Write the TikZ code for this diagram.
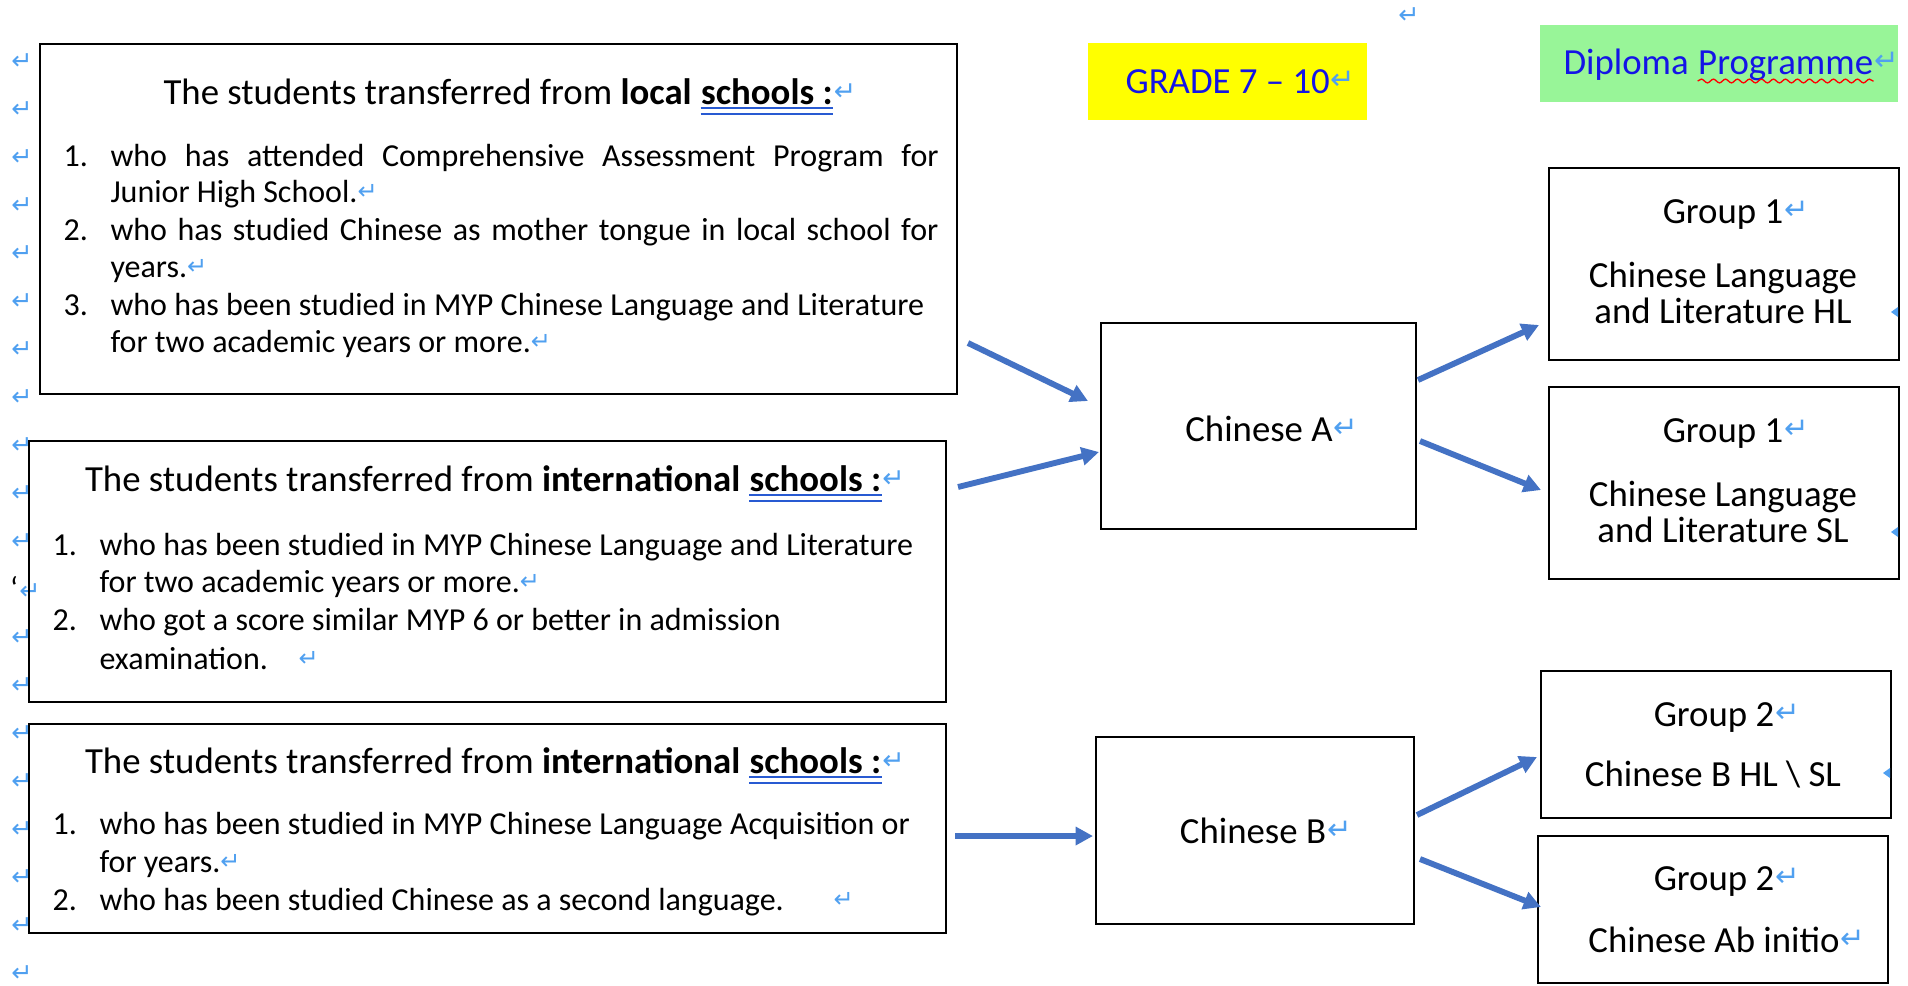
\documentclass[tikz,border=0pt]{standalone}
\usepackage{fontspec}
\setmainfont{Carlito}
\newfontfamily\djv{DejaVu Sans}
\usetikzlibrary{arrows.meta,calc,fit,decorations.pathmorphing}
\definecolor{pmblue}{RGB}{80,160,240}
\definecolor{arrowblue}{RGB}{68,114,196}
\definecolor{ulblue}{RGB}{40,90,210}
\definecolor{gradeyellow}{RGB}{255,255,0}
\definecolor{dpgreen}{RGB}{152,245,152}
\definecolor{textblue}{RGB}{20,20,230}
\newcommand\flst{\fontsize{12pt}{14pt}\selectfont}
\newcommand\fbg{\fontsize{13.8pt}{16pt}\selectfont}
\newcommand\rmk[1]{{\djv\fontsize{#1}{#1}\selectfont\color{pmblue}\raisebox{0.12em}{↵}}}
\tikzset{
  bx/.style={draw=black, line width=0.95pt, inner sep=0pt},
  tx/.style={inner sep=0pt, anchor=base west},
  txc/.style={inner sep=0pt, anchor=base},
  arr/.style={draw=arrowblue, line width=2.2pt, -{Triangle[length=6.5pt,width=6.6pt]}},
  ul/.style={draw=ulblue, line width=0.75pt},
  mg/.style={inner sep=0pt, anchor=center},
  tip/.style={fill=pmblue},
}
\begin{document}
\begin{tikzpicture}[x=0.375pt,y=-0.375pt]
\useasboundingbox (0,0) rectangle (1908,985);
\fill[white] (0,0) rectangle (1908,985);

% margin paragraph marks
\foreach \k in {0,...,10,12,13,...,19}{
  \node[mg] (pm\k) at (22,{63+48*\k}) {\rmk{9.5pt}};
}
\node[mg] (qt) at (14,588) {\flst ‘};
\node[mg] (pm11) at (30,593) {\rmk{9.5pt}};
\node[mg] (pmtop) at (1409,17) {\rmk{9.5pt}};

% ---------- left boxes ----------
\node[bx, fit={(40,44) (957,394)}] (b1) {};
\node[bx, fit={(29,441) (946,702)}] (b2) {};
\node[bx, fit={(29,724) (946,933)}] (b3) {};

% box 1
\node[tx] (t1a) at (163,104) {\fbg The students transferred from \textbf{local}\ \null};
\node[tx] (t1b) at (t1a.base east) {\fbg\textbf{schools :}};
\node[tx] (t1m) at (t1b.base east) {\rmk{10pt}};
\draw[ul] ($(t1b.base west)+(0,4)$) -- ($(t1b.base east)+(0,4)$);
\draw[ul] ($(t1b.base west)+(0,10)$) -- ($(t1b.base east)+(0,10)$);
\node[tx] (n11) at (63,166) {\flst 1.};
\node[tx] (l11) at (110,166) {\flst\makebox[310.5pt][s]{who has attended Comprehensive Assessment Program for}};
\node[tx] (l12) at (110,202) {\flst Junior High School.\rmk{9pt}};
\node[tx] (n12) at (63,240) {\flst 2.};
\node[tx] (l13) at (110,240) {\flst\makebox[310.5pt][s]{who has studied Chinese as mother tongue in local school for}};
\node[tx] (l14) at (110,277) {\flst years.\rmk{9pt}};
\node[tx] (n13) at (63,315) {\flst 3.};
\node[tx] (l15) at (110,315) {\flst who has been studied in MYP Chinese Language and Literature};
\node[tx] (l16) at (110,352) {\flst for two academic years or more.\rmk{9pt}};

% box 2
\node[tx] (t2a) at (84.5,491) {\fbg The students transferred from \textbf{international}\ \null};
\node[tx] (t2b) at (t2a.base east) {\fbg\textbf{schools :}};
\node[tx] (t2m) at (t2b.base east) {\rmk{10pt}};
\draw[ul] ($(t2b.base west)+(0,4)$) -- ($(t2b.base east)+(0,4)$);
\draw[ul] ($(t2b.base west)+(0,10)$) -- ($(t2b.base east)+(0,10)$);
\node[tx] (n21) at (52,555) {\flst 1.};
\node[tx] (l21) at (99,555) {\flst who has been studied in MYP Chinese Language and Literature};
\node[tx] (l22) at (99,592) {\flst for two academic years or more.\rmk{9pt}};
\node[tx] (n22) at (52,630) {\flst 2.};
\node[tx] (l23) at (99,630) {\flst who got a score similar MYP 6 or better in admission};
\node[tx] (l24) at (99,669) {\flst examination.};
\node[tx] (l24m) at (298,669) {\rmk{9pt}};

% box 3
\node[tx] (t3a) at (84.5,773) {\fbg The students transferred from \textbf{international}\ \null};
\node[tx] (t3b) at (t3a.base east) {\fbg\textbf{schools :}};
\node[tx] (t3m) at (t3b.base east) {\rmk{10pt}};
\draw[ul] ($(t3b.base west)+(0,4)$) -- ($(t3b.base east)+(0,4)$);
\draw[ul] ($(t3b.base west)+(0,10)$) -- ($(t3b.base east)+(0,10)$);
\node[tx] (n31) at (52,834) {\flst 1.};
\node[tx] (l31) at (99,834) {\flst who has been studied in MYP Chinese Language Acquisition or};
\node[tx] (l32) at (99,872) {\flst for years.\rmk{9pt}};
\node[tx] (n32) at (52,910) {\flst 2.};
\node[tx] (l33) at (99,910) {\flst who has been studied Chinese as a second language.};
\node[tx] (l33m) at (833,910) {\rmk{9pt}};

% ---------- headers ----------
\node[fill=gradeyellow, inner sep=0pt, fit={(1088,43) (1367,120)}] (grade) {};
\node[tx] (gradet) at (1125,93) {\fbg\color{textblue}GRADE 7 – 10};
\node[tx] (gradem) at (gradet.base east) {\rmk{11pt}};

\node[fill=dpgreen, inner sep=0pt, fit={(1540,25) (1898,102)}] (dp) {};
\node[tx] (dp1) at (1563,74) {\fbg\color{textblue}Diploma\ \null};
\node[tx] (dp2) at (dp1.base east) {\fbg\color{textblue}Programme};
\draw[red, line width=0.5pt, decorate, decoration={snake, amplitude=0.7pt, segment length=4.5pt}]
  ($(dp2.base west)+(0,7)$) -- ($(dp2.base east)+(0,7)$);
\begin{scope}
  \clip (dp.south west) rectangle (dp.north east);
  \node[tx] (dpm) at (dp2.base east) {\rmk{11pt}};
\end{scope}

% ---------- middle boxes ----------
\node[bx, fit={(1101,323) (1416,529)}] (ca) {};
\node[txc] (cat) at (1259,441) {\fbg Chinese A};
\node[tx] (cam) at (cat.base east) {\rmk{11pt}};

\node[bx, fit={(1096,737) (1414,924)}] (cb) {};
\node[txc] (cbt) at (1253,843) {\fbg Chinese B};
\node[tx] (cbm) at (cbt.base east) {\rmk{11pt}};

% ---------- right boxes ----------
\node[bx, fit={(1549,168) (1899,360)}] (g1a) {};
\node[txc] (g1a1) at (1723,223) {\fbg Group 1};
\node[tx] (g1a1m) at (g1a1.base east) {\rmk{11pt}};
\node[txc] (g1a2) at (1723,287) {\fbg Chinese Language};
\node[txc] (g1a3) at (1723,323) {\fbg and Literature HL};
\fill[tip] (1891,312) -- (1898,307) -- (1898,317) -- cycle;

\node[bx, fit={(1549,387) (1899,579)}] (g1b) {};
\node[txc] (g1b1) at (1723,442) {\fbg Group 1};
\node[tx] (g1b1m) at (g1b1.base east) {\rmk{11pt}};
\node[txc] (g1b2) at (1723,506) {\fbg Chinese Language};
\node[txc] (g1b3) at (1723,542) {\fbg and Literature SL};
\fill[tip] (1891,532) -- (1898,527) -- (1898,537) -- cycle;

\node[bx, fit={(1541,671) (1891,818)}] (g2a) {};
\node[txc] (g2a1) at (1714,726) {\fbg Group 2};
\node[tx] (g2a1m) at (g2a1.base east) {\rmk{11pt}};
\node[txc] (g2a2) at (1713,786) {\fbg Chinese B HL \textbackslash{} SL};
\fill[tip] (1883,773) -- (1890,768) -- (1890,778) -- cycle;

\node[bx, fit={(1538,836) (1888,983)}] (g2b) {};
\node[txc] (g2b1) at (1714,890) {\fbg Group 2};
\node[tx] (g2b1m) at (g2b1.base east) {\rmk{11pt}};
\node[txc] (g2b2) at (1714,952) {\fbg Chinese Ab initio};
\node[tx] (g2b2m) at (g2b2.base east) {\rmk{11pt}};

% ---------- arrows ----------
\coordinate (a1s) at (968,343);  \coordinate (a1e) at (1088,401);
\coordinate (a2s) at (958,487);  \coordinate (a2e) at (1099,452);
\coordinate (a3s) at (955,836);  \coordinate (a3e) at (1093,836);
\coordinate (a4s) at (1418,380); \coordinate (a4e) at (1539,325);
\coordinate (a5s) at (1420,441); \coordinate (a5e) at (1541,490);
\coordinate (a6s) at (1417,815); \coordinate (a6e) at (1537,757);
\coordinate (a7s) at (1420,859); \coordinate (a7e) at (1541,907);
\draw[arr] (a1s) -- (a1e);
\draw[arr] (a2s) -- (a2e);
\draw[arr] (a3s) -- (a3e);
\draw[arr] (a4s) -- (a4e);
\draw[arr] (a5s) -- (a5e);
\draw[arr] (a6s) -- (a6e);
\draw[arr] (a7s) -- (a7e);
\end{tikzpicture}
\end{document}
